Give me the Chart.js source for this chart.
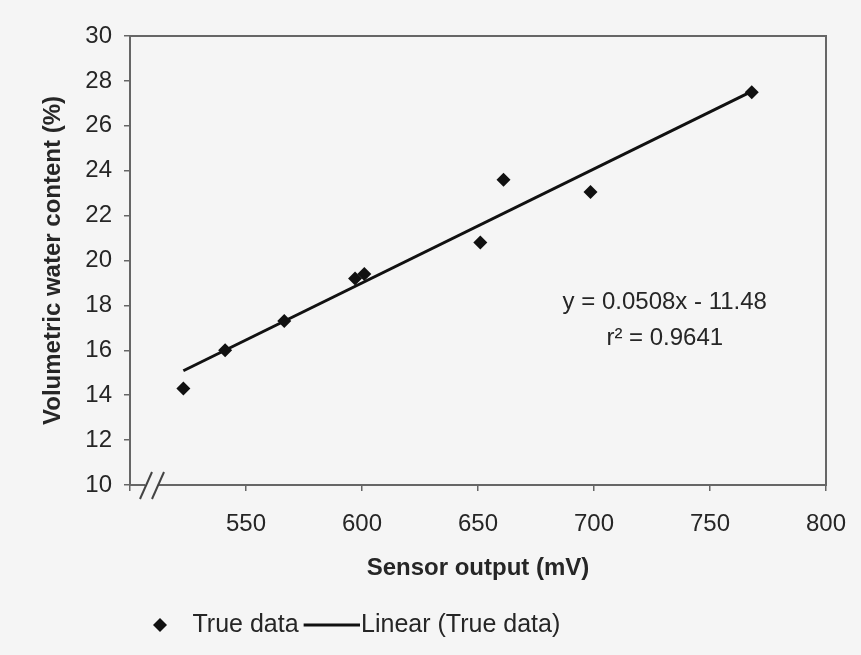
<!DOCTYPE html>
<html>
<head>
<meta charset="utf-8">
<title>Sensor calibration</title>
<script src="https://cdn.jsdelivr.net/npm/chart.js@4.4.1/dist/chart.umd.min.js"></script>
<style>
  html, body { margin: 0; padding: 0; background: #f5f5f5; }
  canvas { display: block; background: #f5f5f5; }
</style>
</head>
<body>
<canvas id="calibChart" width="861" height="655"></canvas>
<script>
// Calibration data: sensor output (mV) vs volumetric water content (%)
const sensorOutput = [523, 541, 566.5, 597, 601, 651, 661, 698.5, 768];
const waterContent = [14.3, 16.0, 17.3, 19.2, 19.4, 20.8, 23.6, 23.05, 27.5];

// Linear fit reported on the chart
const fitSlope = 0.0508;
const fitIntercept = -11.48;
const fitR2 = 0.9641;

const xTicks = [500, 550, 600, 650, 700, 750, 800];
const yTicks = [10, 12, 14, 16, 18, 20, 22, 24, 26, 28, 30];

const FONT = "'Liberation Sans', Arial, Helvetica, sans-serif";
const INK = '#262626';
const AXIS = '#666';

const points = sensorOutput.map((x, i) => ({ x: x, y: waterContent[i] }));
const xMin = Math.min(...sensorOutput);
const xMax = Math.max(...sensorOutput);
const trend = [
    { x: xMin, y: fitSlope * xMin + fitIntercept },
    { x: xMax, y: fitSlope * xMax + fitIntercept }
];

// small canvases used as legend symbols
function diamondIcon() {
    const c = document.createElement('canvas');
    c.width = 16; c.height = 16;
    const g = c.getContext('2d');
    g.fillStyle = '#111';
    g.beginPath();
    g.moveTo(8, 1); g.lineTo(15, 8); g.lineTo(8, 15); g.lineTo(1, 8);
    g.closePath();
    g.fill();
    return c;
}
function lineIcon() {
    const c = document.createElement('canvas');
    c.width = 62; c.height = 6;
    const g = c.getContext('2d');
    g.strokeStyle = '#111';
    g.lineWidth = 3;
    g.beginPath();
    g.moveTo(6, 3); g.lineTo(62, 3);
    g.stroke();
    return c;
}
const legendIcons = [diamondIcon(), lineIcon()];

// box round the plot, axis break on x and the fit equation
const decorations = {
    id: 'decorations',
    beforeDatasetsDraw(chart) {
        const { ctx, chartArea: a } = chart;
        ctx.save();
        ctx.strokeStyle = AXIS;
        ctx.lineWidth = 2;
        ctx.strokeRect(a.left, a.top, a.right - a.left, a.bottom - a.top);
        ctx.restore();
    },
    afterDraw(chart) {
        const { ctx, chartArea: a, scales } = chart;
        ctx.save();
        // axis break "//"
        const bx = a.left + 10, by = a.bottom;
        ctx.fillStyle = '#f5f5f5';
        ctx.fillRect(bx + 5, by - 3, 13, 6);
        ctx.strokeStyle = '#444';
        ctx.lineWidth = 2;
        [0, 12].forEach(dx => {
            ctx.beginPath();
            ctx.moveTo(bx + dx, by + 14);
            ctx.lineTo(bx + dx + 12, by - 13);
            ctx.stroke();
        });
        // regression text
        const tx = scales.x.getPixelForValue(730.5);
        ctx.fillStyle = INK;
        ctx.font = '24px ' + FONT;
        ctx.textAlign = 'center';
        ctx.textBaseline = 'middle';
        const sign = fitIntercept < 0 ? ' - ' : ' + ';
        ctx.fillText('y = ' + fitSlope.toFixed(4) + 'x' + sign + Math.abs(fitIntercept).toFixed(2),
            tx, scales.y.getPixelForValue(18.15));
        ctx.fillText('r\u00B2 = ' + fitR2.toFixed(4), tx, scales.y.getPixelForValue(16.55));
        ctx.restore();
    }
};

const ctx = document.getElementById('calibChart').getContext('2d');
const chart = new Chart(ctx, {
    type: 'scatter',
    data: {
        datasets: [
            {
                label: 'True data',
                data: points,
                pointStyle: 'rectRot',
                pointRadius: 7,
                pointHoverRadius: 7,
                backgroundColor: '#111',
                borderWidth: 0
            },
            {
                label: 'Linear (True data)',
                data: trend,
                showLine: true,
                borderColor: '#111',
                borderWidth: 3,
                pointRadius: 0,
                fill: false
            }
        ]
    },
    options: {
        responsive: false,
        animation: false,
        layout: { padding: { top: 36, right: 35, bottom: 7.5, left: 0 } },
        plugins: {
            tooltip: { enabled: false },
            legend: {
                position: 'bottom',
                align: 'start',
                fullSize: false,
                labels: {
                    usePointStyle: true,
                    pointStyleWidth: 40,
                    padding: 10,
                    color: INK,
                    font: { family: FONT, size: 25 },
                    generateLabels(chart) {
                        const items = Chart.defaults.plugins.legend.labels.generateLabels(chart);
                        items.forEach((it, i) => { it.pointStyle = legendIcons[i]; });
                        return items;
                    }
                }
            }
        },
        scales: {
            x: {
                type: 'linear',
                min: xTicks[0],
                max: xTicks[xTicks.length - 1],
                afterBuildTicks(scale) { scale.ticks = xTicks.map(v => ({ value: v })); },
                afterFit(scale) {
                    scale.height = 117.5;
                    scale.paddingLeft = 0;
                    scale.paddingRight = 0;
                },
                border: { display: true, color: AXIS, width: 2 },
                grid: { drawOnChartArea: false, drawTicks: true, tickLength: 6, color: AXIS, lineWidth: 1.5 },
                ticks: {
                    padding: 18.5,
                    color: INK,
                    font: { family: FONT, size: 24 },
                    callback: v => (v === xTicks[0] ? '' : v)
                },
                title: {
                    display: true,
                    text: 'Sensor output (mV)',
                    color: INK,
                    font: { family: FONT, size: 24, weight: 'bold' },
                    padding: { top: 0, bottom: 20 }
                }
            },
            y: {
                type: 'linear',
                min: yTicks[0],
                max: yTicks[yTicks.length - 1],
                afterBuildTicks(scale) { scale.ticks = yTicks.map(v => ({ value: v })); },
                afterFit(scale) {
                    scale.width = 130;
                    scale.paddingTop = 0;
                    scale.paddingBottom = 0;
                },
                border: { display: true, color: AXIS, width: 2 },
                grid: { drawOnChartArea: false, drawTicks: true, tickLength: 6, color: AXIS, lineWidth: 1.5 },
                ticks: {
                    padding: 12,
                    color: INK,
                    font: { family: FONT, size: 24 }
                },
                title: {
                    display: true,
                    text: 'Volumetric water content (%)',
                    color: INK,
                    font: { family: FONT, size: 24, weight: 'bold' },
                    padding: { top: 39, bottom: 0 }
                }
            }
        }
    },
    plugins: [decorations]
});
</script>
</body>
</html>
